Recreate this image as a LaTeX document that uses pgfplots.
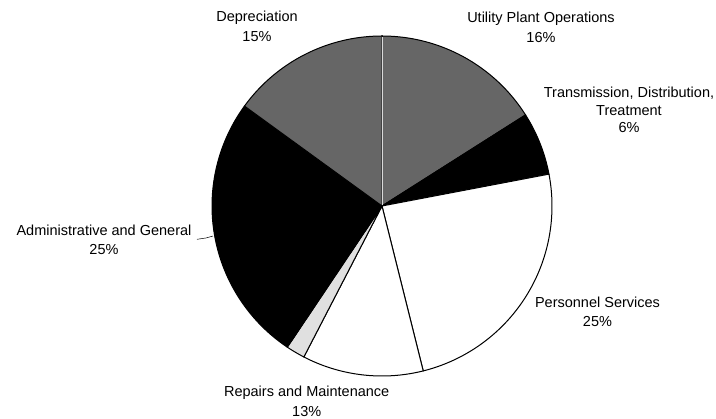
\documentclass[border=0pt]{standalone}
\usepackage{pgfplots}
\pgfplotsset{compat=1.18}
\usepackage{fontspec}
\setmainfont{Liberation Sans}
% cumulative shares (percent), clockwise from 12 o'clock
% Utility 16, Transmission 6, Personnel 24.1, Repairs 11.5, (small dotted) 1.8, Admin 25.6, Depreciation 15
\newcommand\slice[3]{%
  \pgfmathsetmacro\sa{90-3.6*#2}%
  \pgfmathsetmacro\sb{90-3.6*#1}%
  \addplot[draw=black, line width=1pt, fill=#3, domain=\sa:\sb, samples=80, variable=\t]
    ({382+170*cos(\t)},{213+170*sin(\t)}) -- (axis cs:382,213) -- cycle;}
\begin{document}
\begin{tikzpicture}
\useasboundingbox (0,0) rectangle (716pt,419pt);
\begin{axis}[scale only axis, width=716pt, height=419pt, hide axis,
  xmin=0, xmax=716, ymin=0, ymax=419, clip=false, anchor=south west, at={(0,0)}]
\slice{0}{16}{black!60}
\slice{16}{22}{black}
\slice{22}{46.1}{white}
\slice{46.1}{57.6}{white}
\slice{57.6}{59.4}{black!12}
\slice{59.4}{85}{black}
\slice{85}{100}{black!60}
\addplot[draw=white!85!black, line width=0.8pt] coordinates {(382,214) (382,382)};
\draw[black, line width=0.5pt] (axis cs:197,179.7) -- (axis cs:206,181) -- (axis cs:213,183);
\begin{scope}[every node/.style={font=\fontsize{14.5}{19.5}\selectfont, align=center}]
\node at (axis cs:257,392.5) {Depreciation\\15\%};
\node at (axis cs:541,391.7) {Utility Plant Operations\\16\%};
\node[font=\fontsize{14.5}{17.5}\selectfont] at (axis cs:629,309) {Transmission, Distribution,\\Treatment\\6\%};
\node at (axis cs:104,179) {Administrative and General\\25\%};
\node at (axis cs:597.5,107.3) {Personnel Services\\25\%};
\node at (axis cs:306.7,17.7) {Repairs and Maintenance\\13\%};
\end{scope}
\end{axis}
\end{tikzpicture}
\end{document}
